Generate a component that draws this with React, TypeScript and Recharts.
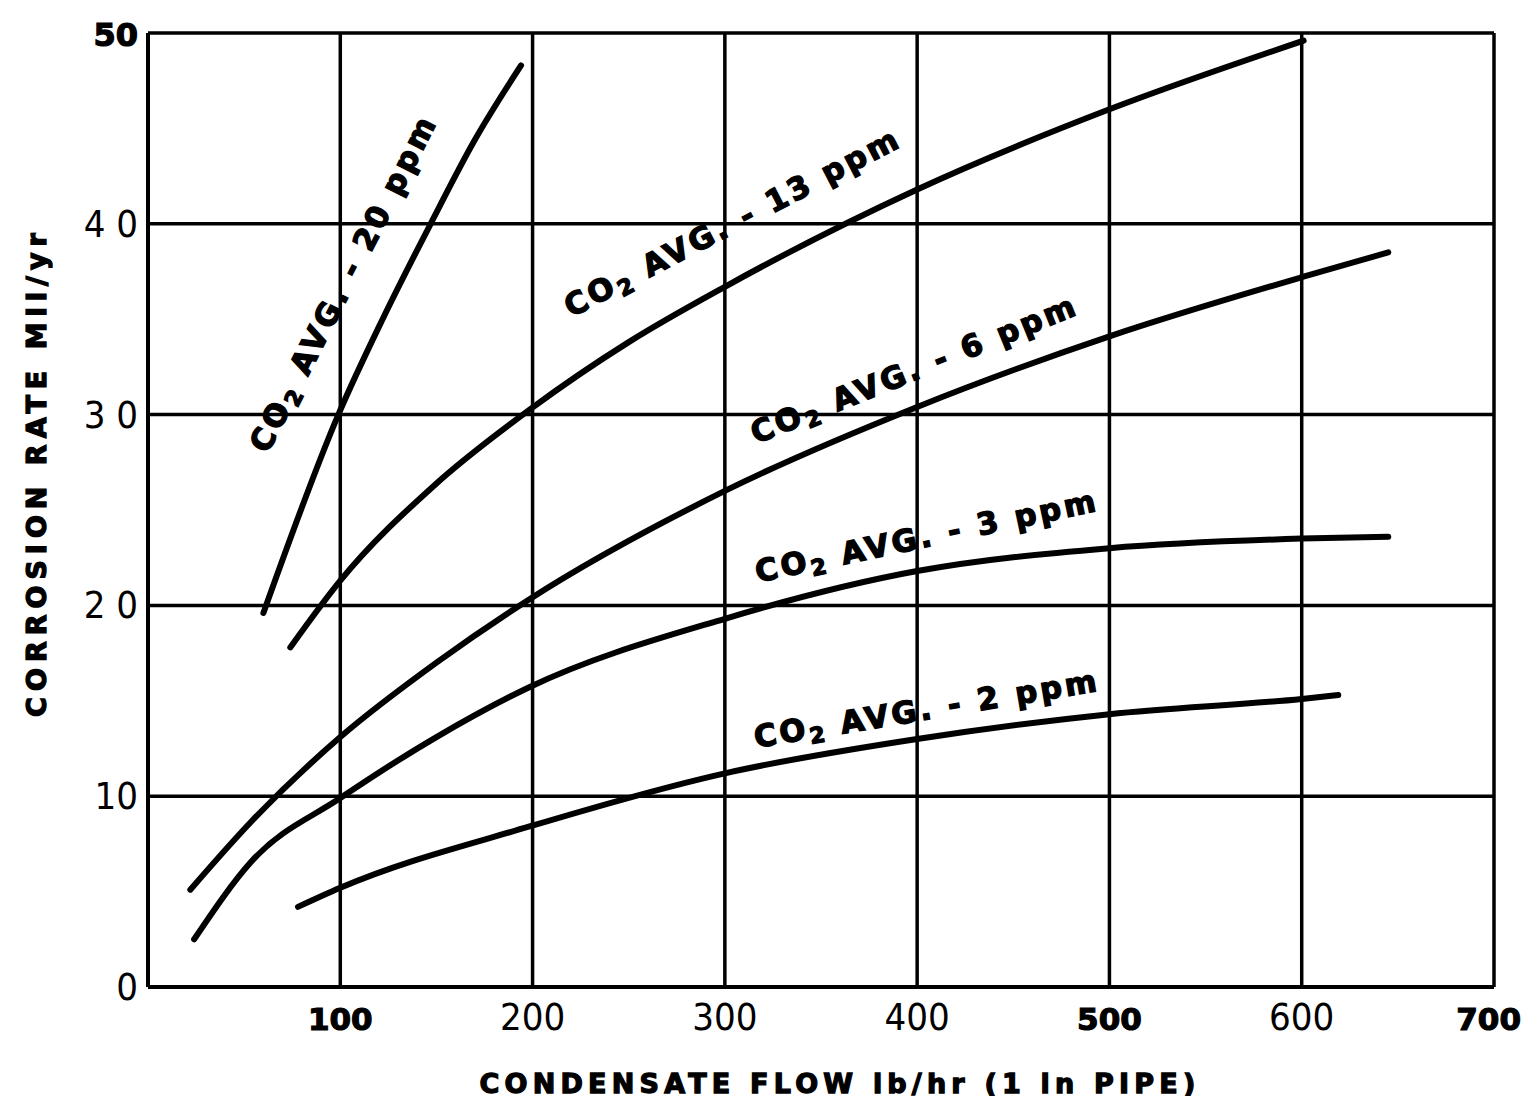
import React from 'react';
import { LineChart, Line, XAxis, YAxis, CartesianGrid, ReferenceDot } from 'recharts';

// Tick values and labels
const xTicks = [0, 100, 200, 300, 400, 500, 600, 700];
const xTickLabels = ['', '100', '200', '300', '400', '500', '600', '700'];
const xBoldTicks = [100, 500, 700];
const yTicks = [0, 10, 20, 30, 40, 50];
const yTickLabels = ['0', '10', '2 0', '3 0', '4 0', '50'];
const yBoldTicks = [50];

// Curves: condensate flow (lb/hr) vs corrosion rate (mil/yr)
const ppm20 = [
  { x: 60, y: 19.6 }, { x: 99, y: 30.0 }, { x: 122, y: 35.0 },
  { x: 147, y: 40.0 }, { x: 170, y: 44.4 }, { x: 194, y: 48.3 },
];
const ppm13 = [
  { x: 74, y: 17.8 }, { x: 100, y: 21.3 }, { x: 149, y: 26.3 }, { x: 199, y: 30.3 },
  { x: 250, y: 33.8 }, { x: 300, y: 36.7 }, { x: 400, y: 41.8 }, { x: 500, y: 46.0 },
  { x: 601, y: 49.6 },
];
const ppm6 = [
  { x: 22, y: 5.1 }, { x: 54, y: 8.7 }, { x: 100, y: 13.1 }, { x: 150, y: 17.0 },
  { x: 198, y: 20.3 }, { x: 300, y: 26.0 }, { x: 400, y: 30.4 }, { x: 500, y: 34.1 },
  { x: 600, y: 37.2 }, { x: 645, y: 38.5 },
];
const ppm3 = [
  { x: 24, y: 2.5 }, { x: 54, y: 6.6 }, { x: 100, y: 9.9 }, { x: 150, y: 13.1 },
  { x: 198, y: 15.7 }, { x: 300, y: 19.3 }, { x: 400, y: 21.8 }, { x: 500, y: 23.0 },
  { x: 600, y: 23.5 }, { x: 645, y: 23.6 },
];
const ppm2 = [
  { x: 78, y: 4.2 }, { x: 100, y: 5.2 }, { x: 198, y: 8.4 }, { x: 300, y: 11.2 },
  { x: 400, y: 13.0 }, { x: 500, y: 14.3 }, { x: 600, y: 15.1 }, { x: 619, y: 15.3 },
];

// Curve labels (anchored in data coordinates)
const labelPpm = ['20', '13', '6', '3', '2'];
const labelX = [101.5, 304, 398.5, 405, 405];
const labelY = [36.9, 40.1, 32.4, 23.65, 14.6];
const labelAngle = [63, 27.5, 22, 12, 9.5];

const HEAVY = "'DejaVu Sans', sans-serif";
const THIN = "'Liberation Sans Narrow', 'DejaVu Sans Condensed', 'Liberation Sans', sans-serif";

const XTick = (props: any) => {
  const { x, y, payload } = props;
  const i = xTicks.indexOf(payload.value);
  const bold = xBoldTicks.includes(payload.value);
  const last = i === xTicks.length - 1;
  return (
    <text x={last ? x + 27 : x} y={y} dy={35} textAnchor={last ? 'end' : 'middle'}
      fontFamily={bold ? HEAVY : THIN} fontWeight={bold ? 700 : 300}
      fontSize={bold ? 31 : 38} fill="#000" stroke={bold ? '#000' : 'none'} strokeWidth={bold ? 1.2 : 0}>
      {xTickLabels[i]}
    </text>
  );
};

const YTick = (props: any) => {
  const { x, y, payload } = props;
  const i = yTicks.indexOf(payload.value);
  const bold = yBoldTicks.includes(payload.value);
  return (
    <text x={x - 2} y={y} dy={13} textAnchor="end"
      fontFamily={bold ? HEAVY : THIN} fontWeight={bold ? 700 : 300}
      fontSize={bold ? 32 : 38} fill="#000" stroke={bold ? '#000' : 'none'} strokeWidth={bold ? 1.2 : 0}>
      {yTickLabels[i]}
    </text>
  );
};

const makeLabelShape = (ppm: string, angle: number) => (p: any) => (
  <text transform={`translate(${p.cx},${p.cy}) rotate(${-angle})`} textAnchor="middle"
    dominantBaseline="central" fontFamily={HEAVY} fontWeight={700} fontSize={30.5}
    letterSpacing={3.3} fill="#000" stroke="#000" strokeWidth={1.4}>
    CO<tspan dy={8} fontSize={22}>2</tspan><tspan dy={-8}> AVG. - {ppm} ppm</tspan>
  </text>
);

const YLabel = () => (
  <text transform="translate(28,464) rotate(-90)" textAnchor="middle"
    dominantBaseline="central" fontFamily={HEAVY} fontWeight={700} fontSize={27}
    letterSpacing={6} fill="#000" stroke="#000" strokeWidth={1.3}>
    CORROSION RATE Mil/yr
  </text>
);

const XLabel = () => (
  <text x={832} y={1075} textAnchor="middle" dominantBaseline="central"
    fontFamily={HEAVY} fontWeight={700} fontSize={27} letterSpacing={5.2} fill="#000"
    stroke="#000" strokeWidth={1.3}>
    CONDENSATE FLOW lb/hr (1 in PIPE)
  </text>
);

const series = [ppm20, ppm13, ppm6, ppm3, ppm2];

export default function App() {
  return (
    <div style={{ width: 1514, height: 1088, background: '#fff' }}>
      <style>{`.recharts-surface{overflow:visible}`}</style>
      <LineChart width={1514} height={1088} margin={{ top: 25, right: 28, bottom: 49, left: 10 }}>
        <CartesianGrid stroke="#000" strokeWidth={3.5} horizontalValues={yTicks} verticalValues={xTicks} />
        <XAxis type="number" dataKey="x" domain={[0, 700]} ticks={xTicks} interval={0}
          axisLine={{ stroke: '#000', strokeWidth: 4 }} tickLine={false} height={60}
          tick={<XTick />} label={<XLabel />} allowDataOverflow />
        <YAxis type="number" dataKey="y" domain={[0, 50]} ticks={yTicks} interval={0}
          axisLine={{ stroke: '#000', strokeWidth: 4 }} tickLine={false} width={130}
          tick={<YTick />} label={<YLabel />} allowDataOverflow />
        {series.map((d, i) => (
          <Line key={i} data={d} dataKey="y" type="monotone" stroke="#000" strokeWidth={6}
            dot={false} activeDot={false} isAnimationActive={false} strokeLinecap="round" />
        ))}
        {labelPpm.map((ppm, i) => (
          <ReferenceDot key={'l' + i} x={labelX[i]} y={labelY[i]} r={0} ifOverflow="visible"
            shape={makeLabelShape(ppm, labelAngle[i])} />
        ))}
      </LineChart>
    </div>
  );
}
